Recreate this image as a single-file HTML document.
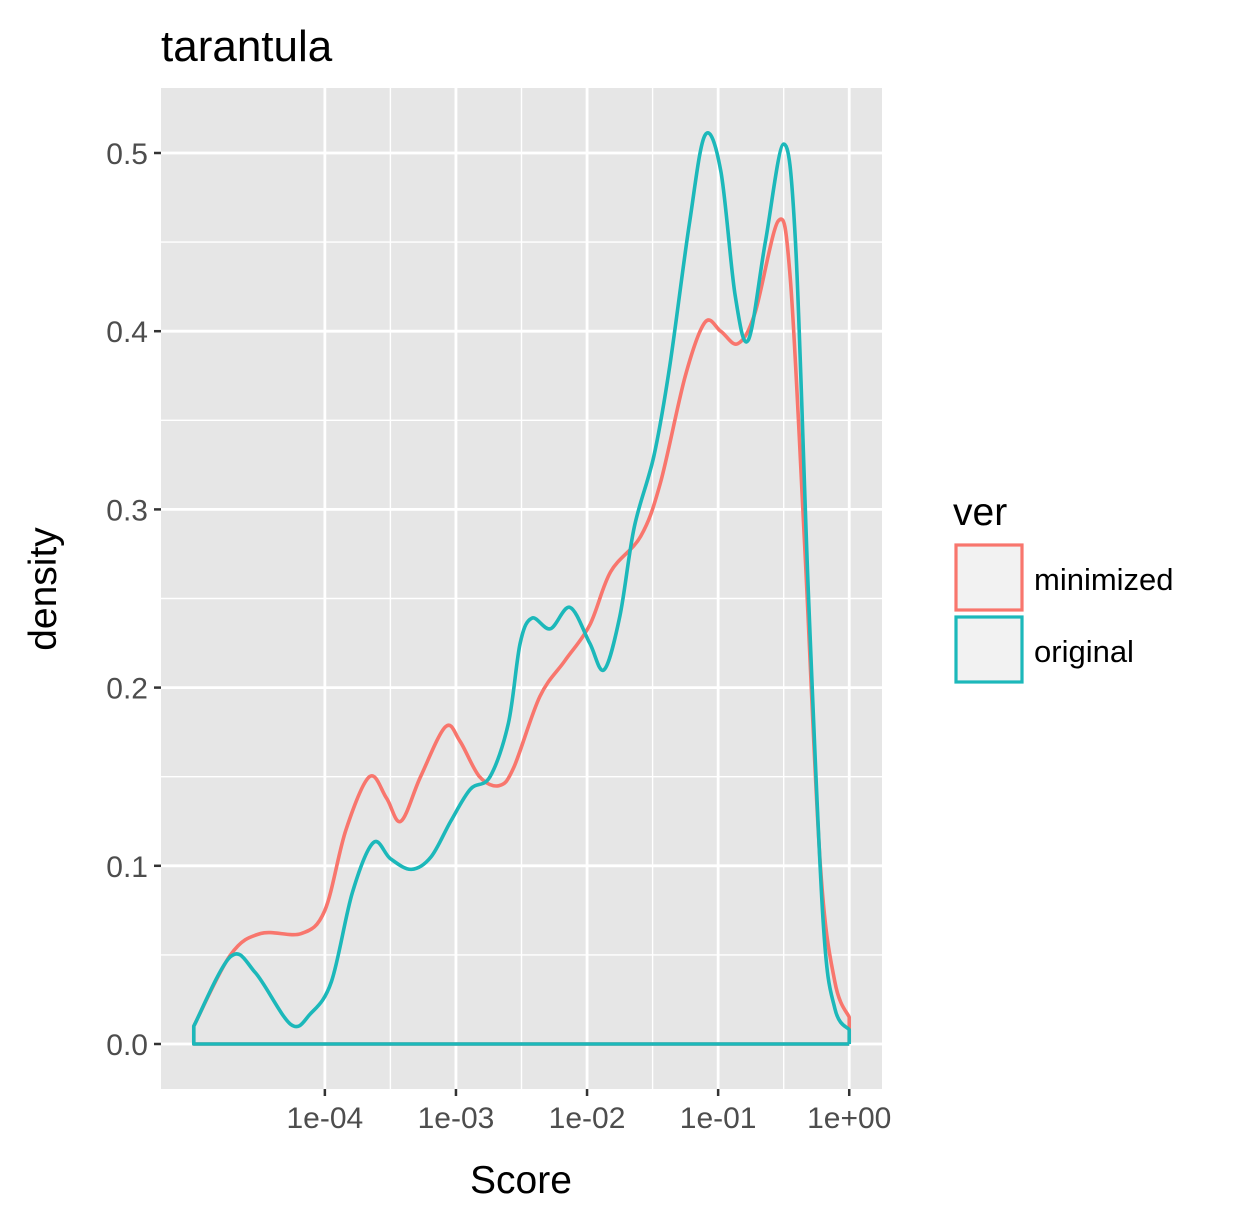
<!DOCTYPE html>
<html><head><meta charset="utf-8"><style>body{margin:0;background:#fff}svg{display:block;font-family:"Liberation Sans",Arial,sans-serif}</style></head>
<body>
<svg id="c" width="1245" height="1216"></svg>
<script>
const xTicks=[-4,-3,-2,-1,0];
const xTickLabels=["1e-04","1e-03","1e-02","1e-01","1e+00"];
const yTicks=[0,0.1,0.2,0.3,0.4,0.5];
const yTickLabels=["0.0","0.1","0.2","0.3","0.4","0.5"];
const seriesNames=["minimized","original"];
const minLogX=[-5,-4.72,-4.49,-4.18,-4,-3.84,-3.66,-3.53,-3.42,-3.27,-3.08,-2.97,-2.82,-2.67,-2.56,-2.36,-2.17,-1.98,-1.82,-1.59,-1.44,-1.25,-1.10,-0.98,-0.85,-0.72,-0.54,-0.45,-0.34,-0.22,-0.11,0];
const minDensity=[0.01,0.05,0.062,0.062,0.075,0.12,0.15,0.138,0.125,0.15,0.178,0.17,0.15,0.145,0.155,0.195,0.215,0.235,0.265,0.285,0.315,0.375,0.405,0.40,0.393,0.41,0.462,0.43,0.28,0.10,0.035,0.015];
const origLogX=[-5,-4.72,-4.53,-4.26,-4.11,-3.95,-3.79,-3.63,-3.50,-3.34,-3.19,-3.04,-2.89,-2.74,-2.60,-2.51,-2.42,-2.28,-2.13,-1.98,-1.87,-1.75,-1.64,-1.49,-1.37,-1.22,-1.10,-0.98,-0.87,-0.77,-0.64,-0.50,-0.41,-0.31,-0.20,-0.11,0];
const origDensity=[0.01,0.049,0.04,0.011,0.017,0.035,0.085,0.113,0.104,0.098,0.105,0.125,0.143,0.15,0.18,0.225,0.239,0.233,0.245,0.225,0.21,0.24,0.29,0.33,0.38,0.46,0.51,0.49,0.42,0.395,0.45,0.505,0.45,0.25,0.07,0.02,0.008];
const colors=["#F8766D","#1CB8BA"];
const NS="http://www.w3.org/2000/svg";
const svg=document.getElementById('c');
const L=161,R=882,T=88,B=1089;
const sx=v=>L+(v-(-5.25))/(5.5)*(R-L);
const sy=v=>1044-(v/0.5)*(1044-153);
function mk(tag,attrs,parent){const e=document.createElementNS(NS,tag);for(const k in attrs)e.setAttribute(k,attrs[k]);(parent||svg).appendChild(e);return e;}
let p=mk('rect',{x:L,y:T,width:R-L,height:B-T,fill:'#E6E6E6'});


for(let i=0;i<xTicks.length-1;i++){const m=(xTicks[i]+xTicks[i+1])/2;const g=mk('line',{x1:sx(m),x2:sx(m),y1:T,y2:B,stroke:'#fff','stroke-width':1.4});

}
for(let i=0;i<yTicks.length-1;i++){const m=(yTicks[i]+yTicks[i+1])/2;const g=mk('line',{x1:L,x2:R,y1:sy(m),y2:sy(m),stroke:'#fff','stroke-width':1.4});

}
xTicks.forEach((v,i)=>{const g=mk('line',{x1:sx(v),x2:sx(v),y1:T,y2:B,stroke:'#fff','stroke-width':2.8});


const t=mk('line',{x1:sx(v),x2:sx(v),y1:B,y2:B+7,stroke:'#333','stroke-width':2.5});


const l=mk('text',{x:sx(v),y:B+39,'text-anchor':'middle','font-size':30,fill:'#4D4D4D'});l.textContent=xTickLabels[i];

});
yTicks.forEach((v,i)=>{const g=mk('line',{x1:L,x2:R,y1:sy(v),y2:sy(v),stroke:'#fff','stroke-width':2.8});


const t=mk('line',{x1:L-7,x2:L,y1:sy(v),y2:sy(v),stroke:'#333','stroke-width':2.5});


const l=mk('text',{x:L-13,y:sy(v)+11,'text-anchor':'end','font-size':30,fill:'#4D4D4D'});l.textContent=yTickLabels[i];

});
function curve(xs,ys){const P=xs.map((x,i)=>[sx(x),sy(ys[i])]);let d=`M${sx(xs[xs.length-1])},${sy(0)} L${sx(xs[0])},${sy(0)} L${P[0][0]},${P[0][1]}`;
for(let i=0;i<P.length-1;i++){const p0=P[Math.max(0,i-1)],p1=P[i],p2=P[i+1],p3=P[Math.min(P.length-1,i+2)];
const c1=[p1[0]+(p2[0]-p0[0])/6,p1[1]+(p2[1]-p0[1])/6],c2=[p2[0]-(p3[0]-p1[0])/6,p2[1]-(p3[1]-p1[1])/6];
d+=` C${c1[0]},${c1[1]} ${c2[0]},${c2[1]} ${p2[0]},${p2[1]}`;}
d+=` L${sx(xs[xs.length-1])},${sy(0)}`;return d;}
const c1=mk('path',{d:curve(minLogX,minDensity),fill:'none',stroke:colors[0],'stroke-width':3.6,'stroke-linejoin':'round'});


const c2=mk('path',{d:curve(origLogX,origDensity),fill:'none',stroke:colors[1],'stroke-width':3.6,'stroke-linejoin':'round'});


let t=mk('text',{x:161,y:61,'font-size':44,fill:'#000'});t.textContent='tarantula';


t=mk('text',{x:521,y:1193,'text-anchor':'middle','font-size':39,fill:'#000'});t.textContent='Score';


t=mk('text',{x:0,y:0,'text-anchor':'middle','font-size':39,fill:'#000',transform:'translate(56,589) rotate(-90)'});t.textContent='density';


t=mk('text',{x:953,y:525,'font-size':39,fill:'#000'});t.textContent='ver';


seriesNames.forEach((n,i)=>{const y=545+i*72;
const k=mk('rect',{x:956,y:y,width:66,height:65,fill:'#F2F2F2',stroke:colors[i],'stroke-width':3.2});


const l=mk('text',{x:1034,y:y+45,'font-size':31,fill:'#000'});l.textContent=n;

});
</script>
</body></html>
